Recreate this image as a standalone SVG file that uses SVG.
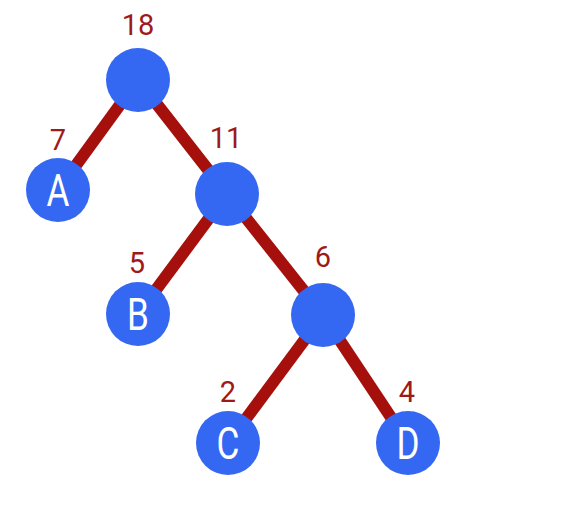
<svg xmlns="http://www.w3.org/2000/svg" width="571" height="514" viewBox="0 0 571 514">
<style>
.edge{stroke:#a50f0c;stroke-width:12;stroke-linecap:butt}
.n{fill:#3467f2}
.w{font-family:Roboto,"Liberation Sans",sans-serif;font-size:29px;fill:#9e1a1a;text-anchor:middle}
.l{font-family:Roboto,"Liberation Sans",sans-serif;font-size:45px;fill:#ffffff;text-anchor:middle}
</style>
<rect width="571" height="514" fill="#ffffff"/>
<g id="edges">
<line class="edge" x1="138" y1="80" x2="58" y2="190"/>
<line class="edge" x1="138" y1="80" x2="227" y2="194"/>
<line class="edge" x1="227" y1="194" x2="138" y2="314"/>
<line class="edge" x1="227" y1="194" x2="323" y2="315"/>
<line class="edge" x1="323" y1="315" x2="228" y2="443"/>
<line class="edge" x1="323" y1="315" x2="408" y2="443"/>
</g>
<g id="n18"><circle class="n" cx="138" cy="80" r="32"/><text class="w" x="138" y="35">18</text></g>
<g id="nA"><circle class="n" cx="58" cy="190" r="32"/><text class="w" x="58" y="150">7</text><text class="l" transform="translate(58,206) scale(0.78,1)">A</text></g>
<g id="n11"><circle class="n" cx="227" cy="194" r="32"/><text class="w" x="226" y="148">11</text></g>
<g id="nB"><circle class="n" cx="138" cy="314" r="32"/><text class="w" x="137" y="273">5</text><text class="l" transform="translate(138,330) scale(0.78,1)">B</text></g>
<g id="n6"><circle class="n" cx="323" cy="315" r="32"/><text class="w" x="323" y="267">6</text></g>
<g id="nC"><circle class="n" cx="228" cy="443" r="32"/><text class="w" x="228" y="402">2</text><text class="l" transform="translate(228,459) scale(0.78,1)">C</text></g>
<g id="nD"><circle class="n" cx="408" cy="443" r="32"/><text class="w" x="407" y="402">4</text><text class="l" transform="translate(408,459) scale(0.78,1)">D</text></g>
</svg>
